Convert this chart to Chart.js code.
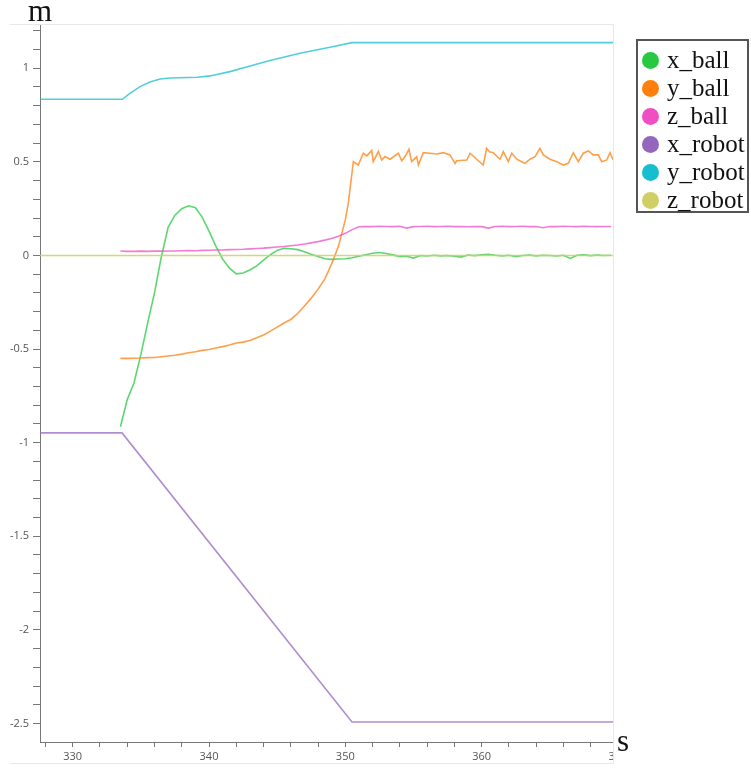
<!DOCTYPE html>
<html>
<head>
<meta charset="utf-8">
<script src="https://cdn.jsdelivr.net/npm/chart.js@4"></script>
<style>
  body { margin: 0; background: #fff; }
  #wrap { position: relative; width: 751px; height: 768px; }
  #legend {
    position: absolute; left: 636px; top: 39px; width: 109px; height: 170px;
    border: 2px solid #555; background: #fff; padding: 0;
    font-family: "Liberation Serif", serif; font-size: 25px; color: #111;
  }
  .item { position: absolute; left: 4px; height: 28px; line-height: 28px; white-space: nowrap; }
  .dot { display: inline-block; width: 17px; height: 17px; border-radius: 50%; vertical-align: -1px; margin-right: 8px; }
</style>
</head>
<body>
<div id="wrap">
  <canvas id="plot" width="751" height="768"></canvas>
  <div id="legend"></div>
</div>
<script>
const seriesNames = ["x_ball", "y_ball", "z_ball", "x_robot", "y_robot", "z_robot"];
const markerColors = ["#26c940", "#ff7f0e", "#ef4fc3", "#9467bd", "#17becf", "#cfcf66"];
const lineColors = ["rgba(38,201,64,0.75)", "rgba(255,127,14,0.75)", "rgba(239,79,195,0.75)",
                    "rgba(148,103,189,0.75)", "rgba(23,190,207,0.75)", "rgba(207,207,102,0.85)"];

// ball samples, time in s
const ballTime = [
  333.5, 334.0, 334.5, 335.0, 335.5, 336.0, 336.5, 337.0, 337.5, 338.0,
  338.5, 339.0, 339.5, 340.0, 340.5, 341.0, 341.5, 342.0, 342.5, 343.0,
  343.5, 344.0, 344.5, 345.0, 345.5, 346.0, 346.5, 347.0, 347.5, 348.0,
  348.5, 349.0, 349.5, 350.0, 350.5, 351.0, 351.5, 352.0, 352.5, 353.0,
  353.5, 354.0, 354.5, 355.0, 355.5, 356.0, 356.5, 357.0, 357.5, 358.0,
  358.5, 359.0, 359.5, 360.0, 360.5, 361.0, 361.5, 362.0, 362.5, 363.0,
  363.5, 364.0, 364.5, 365.0, 365.5, 366.0, 366.5, 367.0, 367.5, 368.0,
  368.5, 369.0, 369.5
];
const xBall = [
  -0.915, -0.77, -0.68, -0.53, -0.36, -0.20, -0.008, 0.15, 0.215, 0.25,
  0.265, 0.255, 0.205, 0.13, 0.05, -0.02, -0.068, -0.098, -0.094, -0.078,
  -0.056, -0.025, 0.004, 0.027, 0.038, 0.036, 0.031, 0.02, 0.006, -0.006,
  -0.018, -0.021, -0.019, -0.018, -0.012, -0.004, 0.004, 0.012, 0.016, 0.01,
  0.003, -0.006, -0.004, -0.014, 0.0, -0.003, 0.001, -0.002, 0.0, -0.004,
  -0.009, 0.002, -0.001, 0.004, 0.006, 0.001, -0.002, 0.001, -0.006, 0.0,
  0.002, -0.002, 0.001, 0.0, -0.003, 0.001, -0.016, 0.001, 0.003, -0.001,
  0.002, 0.0, 0.001
];
const zBall = [
  0.024, 0.022, 0.022, 0.023, 0.022, 0.023, 0.023, 0.024, 0.024, 0.025,
  0.026, 0.025, 0.027, 0.028, 0.029, 0.029, 0.031, 0.032, 0.033, 0.035,
  0.037, 0.039, 0.042, 0.045, 0.048, 0.052, 0.056, 0.061, 0.067, 0.074,
  0.082, 0.091, 0.103, 0.118, 0.138, 0.153, 0.155, 0.154, 0.156, 0.155,
  0.154, 0.156, 0.146, 0.154, 0.155, 0.156, 0.154, 0.155, 0.156, 0.154,
  0.155, 0.153, 0.155, 0.154, 0.146, 0.155, 0.156, 0.154, 0.155, 0.156,
  0.154, 0.155, 0.148, 0.155, 0.154, 0.156, 0.155, 0.154, 0.156, 0.155,
  0.154, 0.155, 0.155
];

// y_ball has its own, denser samples on the noisy plateau
const yBallTime = [
  333.5, 334.0, 334.5, 335.0, 335.5, 336.0, 336.5, 337.0, 337.5, 338.0,
  338.5, 339.0, 339.5, 340.0, 340.5, 341.0, 341.5, 342.0, 342.5, 343.0,
  343.5, 344.0, 344.5, 345.0, 345.5, 346.0, 346.5, 347.0, 347.5, 348.0,
  348.5, 349.0, 349.5, 350.0, 350.22, 350.59, 350.95, 351.32, 351.57, 351.94,
  352.05, 352.42, 352.67, 352.91, 353.28, 353.89, 354.14, 354.38, 354.67, 354.87,
  355.24, 355.36, 355.72, 356.21, 356.71, 357.19, 357.68, 358.05, 358.17, 358.91,
  359.15, 359.64, 360.12, 360.37, 360.57, 360.86, 361.35, 361.59, 361.96, 362.21,
  362.58, 362.94, 363.18, 363.55, 363.92, 364.28, 364.53, 365.02, 365.51, 365.99,
  366.36, 366.73, 367.09, 367.46, 367.83, 368.19, 368.56, 368.81, 369.18, 369.42,
  369.66
];
const yBall = [
  -0.550, -0.550, -0.549, -0.548, -0.546, -0.545, -0.541, -0.537, -0.533, -0.527,
  -0.520, -0.514, -0.507, -0.502, -0.494, -0.487, -0.478, -0.468, -0.463, -0.454,
  -0.440, -0.425, -0.404, -0.383, -0.361, -0.342, -0.310, -0.270, -0.228, -0.180,
  -0.125, -0.045, 0.050, 0.190, 0.279, 0.501, 0.483, 0.546, 0.532, 0.560,
  0.501, 0.555, 0.510, 0.528, 0.514, 0.546, 0.506, 0.528, 0.567, 0.501,
  0.528, 0.483, 0.549, 0.546, 0.542, 0.549, 0.537, 0.492, 0.506, 0.510,
  0.546, 0.514, 0.483, 0.572, 0.554, 0.549, 0.514, 0.554, 0.501, 0.546,
  0.514, 0.501, 0.492, 0.514, 0.528, 0.572, 0.537, 0.514, 0.501, 0.483,
  0.492, 0.549, 0.501, 0.546, 0.558, 0.537, 0.537, 0.501, 0.510, 0.549,
  0.510
];

// robot samples
const xRobotTime = [327.5, 333.62, 350.49, 370];
const xRobot = [-0.948, -0.948, -2.492, -2.492];
const yRobotTime = [327.5, 333.64, 334.2, 334.94, 335.67, 336.41, 337.14, 339.12,
                    340.07, 341.54, 343.01, 344.47, 346.67, 348.87, 350.49, 370];
const yRobot = [0.834, 0.834, 0.866, 0.902, 0.927, 0.943, 0.948, 0.952,
                0.959, 0.982, 1.012, 1.041, 1.080, 1.112, 1.137, 1.137];
const zRobotTime = [327.5, 370];
const zRobot = [0, 0];

const xMin = 327.6, xMax = 369.64;
const yMin = -2.599, yMax = 1.231;

function pts(t, v) {
  return t.map((x, i) => ({ x: x, y: v[i] }));
}

const allData = [
  pts(ballTime, xBall), pts(yBallTime, yBall), pts(ballTime, zBall),
  pts(xRobotTime, xRobot), pts(yRobotTime, yRobot), pts(zRobotTime, zRobot)
];

// legend
const legend = document.getElementById("legend");
seriesNames.forEach((name, i) => {
  const d = document.createElement("div");
  d.className = "item";
  d.style.top = (5 + i * 27.9) + "px";
  d.innerHTML = '<span class="dot" style="background:' + markerColors[i] + '"></span>' + name;
  legend.appendChild(d);
});

const extras = {
  id: "extras",
  afterDraw(chart) {
    const ctx = chart.ctx;
    const a = chart.chartArea;
    const xs = chart.scales.x;
    ctx.save();
    // faint frame
    ctx.strokeStyle = "#e8e8e8";
    ctx.lineWidth = 1;
    ctx.beginPath();
    ctx.moveTo(10, a.top - 0.5);
    ctx.lineTo(a.right + 0.5, a.top - 0.5);
    ctx.lineTo(a.right + 0.5, 763.5);
    ctx.lineTo(10, 763.5);
    ctx.stroke();
    // next major tick label, clipped at the axis end
    const nextMajor = Math.ceil(xMax / 10) * 10;
    ctx.beginPath();
    ctx.rect(a.left, a.bottom, a.right - a.left, 40);
    ctx.clip();
    ctx.fillStyle = "#555";
    ctx.font = "11px 'Open Sans'";
    ctx.textAlign = "center";
    ctx.textBaseline = "top";
    ctx.fillText(String(nextMajor), xs.getPixelForValue(nextMajor), a.bottom + 9);
    ctx.restore();
    // axis units
    ctx.save();
    ctx.fillStyle = "#111";
    ctx.font = "31px 'Liberation Serif'";
    ctx.textAlign = "left";
    ctx.textBaseline = "alphabetic";
    ctx.fillText("m", 28, 21);
    ctx.fillText("s", a.right + 4, a.bottom + 9);
    ctx.restore();
  }
};

new Chart(document.getElementById("plot").getContext("2d"), {
  type: "line",
  data: {
    datasets: seriesNames.map((name, i) => ({
      label: name,
      data: allData[i],
      borderColor: lineColors[i],
      backgroundColor: markerColors[i],
      borderWidth: 1.6,
      pointRadius: 0,
      tension: 0,
      fill: false,
      order: seriesNames.length - i
    }))
  },
  options: {
    responsive: false,
    animation: false,
    layout: { padding: { top: 25, right: 138, left: 0, bottom: 0 } },
    plugins: { legend: { display: false }, tooltip: { enabled: false } },
    scales: {
      x: {
        type: "linear",
        min: xMin,
        max: xMax,
        afterFit: (s) => { s.height = 26; },
        border: { color: "#777", width: 1 },
        grid: { drawOnChartArea: false, tickLength: 5, color: "#777" },
        ticks: {
          stepSize: 2,
          includeBounds: false,
          autoSkip: false,
          maxRotation: 0,
          maxTicksLimit: 100,
          padding: 3,
          color: "#555",
          font: { family: "Open Sans", size: 11 },
          callback: (v) => (Math.abs(v % 10) < 1e-6 ? String(v) : "")
        }
      },
      y: {
        type: "linear",
        min: yMin,
        max: yMax,
        afterFit: (s) => { s.width = 40; },
        border: { color: "#777", width: 1 },
        grid: { drawOnChartArea: false, tickLength: 7, color: "#777" },
        ticks: {
          stepSize: 0.1,
          includeBounds: false,
          autoSkip: false,
          maxTicksLimit: 100,
          padding: 4,
          color: "#555",
          font: { family: "Open Sans", size: 11 },
          callback: (v) => (Math.round(v * 10) % 5 === 0 ? String(Math.round(v * 10) / 10) : "")
        }
      }
    }
  },
  plugins: [extras]
});
</script>
</body>
</html>
